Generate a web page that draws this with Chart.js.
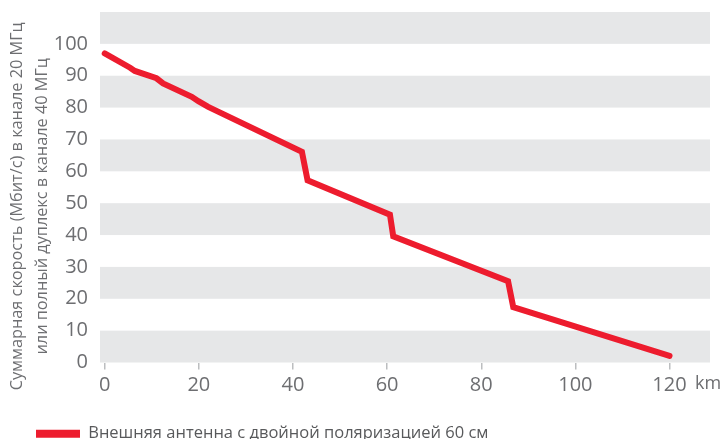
<!DOCTYPE html>
<html lang="ru">
<head>
<meta charset="UTF-8">
<title>Скорость и расстояние</title>
<script src="https://cdn.jsdelivr.net/npm/chart.js"></script>
<style>
  html, body { margin: 0; padding: 0; background: #fff; }
</style>
</head>
<body>
<canvas id="chart" width="720" height="439"></canvas>
<script>
// distance, km
const distanceKm = [0, 5.4, 6.4, 11.0, 12.4, 18.5, 19.9, 22.0, 41.9, 43.1, 60.6, 61.3, 85.7, 86.8, 120];
// throughput, Mbit/s
const speedMbps = [97, 92.5, 91.5, 89.2, 87.6, 83.4, 82.0, 80.2, 66.1, 57.2, 46.4, 39.6, 25.5, 17.4, 2.1];

const seriesLabel = 'Внешняя антенна с двойной поляризацией 60 см';
const yTitle = ['Суммарная скорость (Мбит/с) в канале 20 МГц', 'или полный дуплекс в канале 40 МГц'];
const xTicks = [0, 20, 40, 60, 80, 100, 120, 128.2];
const xTickLabels = ['0', '20', '40', '60', '80', '100', '120', 'km'];
const yTicks = [0, 10, 20, 30, 40, 50, 60, 70, 80, 90, 100];
const bands = [[0, 10], [20, 30], [40, 50], [60, 70], [80, 90], [100, 110]];

const RED = '#ed1c2e';
const GREY_TXT = '#6d6e71';
const FONT = '"Open Sans", "Noto Sans", sans-serif';
const UNIT_TICK = xTicks.length - 1;

// grey stripes behind the plot
const bandsPlugin = {
    id: 'bands',
    beforeDatasetsDraw(chart) {
        const {ctx, chartArea, scales} = chart;
        ctx.save();
        ctx.fillStyle = '#e6e7e8';
        bands.forEach(([lo, hi]) => {
            const top = scales.y.getPixelForValue(hi);
            const bottom = scales.y.getPixelForValue(lo);
            ctx.fillRect(chartArea.left, top, chartArea.right - chartArea.left, bottom - top);
        });
        ctx.restore();
    }
};

// rotated two-line y title, sits a bit lower than the plot centre like the original
const yTitlePlugin = {
    id: 'yTitle',
    afterDraw(chart) {
        const {ctx, chartArea} = chart;
        const cy = (chartArea.top + chartArea.bottom) / 2 + 19;
        ctx.save();
        ctx.fillStyle = GREY_TXT;
        ctx.font = '16.3px ' + FONT;
        ctx.textAlign = 'center';
        ctx.textBaseline = 'middle';
        ctx.translate(17, cy);
        ctx.rotate(-Math.PI / 2);
        yTitle.forEach((line, i) => ctx.fillText(line, 0, i * 25));
        ctx.restore();
    }
};

new Chart(document.getElementById('chart'), {
    type: 'line',
    data: {
        datasets: [{
            label: seriesLabel,
            data: distanceKm.map((x, i) => ({x: x, y: speedMbps[i]})),
            borderColor: RED,
            backgroundColor: RED,
            borderWidth: 6,
            borderCapStyle: 'round',
            borderJoinStyle: 'miter',
            pointRadius: 0,
            tension: 0,
            fill: false
        }]
    },
    options: {
        responsive: false,
        animation: false,
        devicePixelRatio: 1,
        layout: {
            padding: {top: 12, right: 10, left: 32, bottom: -13}
        },
        plugins: {
            tooltip: {enabled: false},
            legend: {
                position: 'bottom',
                align: 'start',
                labels: {
                    boxWidth: 44,
                    boxHeight: 8,
                    padding: 4,
                    color: '#58595b',
                    font: {family: FONT, size: 16.5},
                    generateLabels: chart => Chart.defaults.plugins.legend.labels.generateLabels(chart)
                        .map(l => ({...l, lineWidth: 0, fillStyle: RED}))
                }
            }
        },
        scales: {
            x: {
                type: 'linear',
                min: -1,
                max: 128.6,
                afterBuildTicks: s => { s.ticks = xTicks.map(v => ({value: v})); },
                afterFit: s => { s.height = 59; s.paddingRight = 0; },
                border: {display: false},
                grid: {
                    drawOnChartArea: false,
                    drawTicks: true,
                    tickLength: 7,
                    tickColor: c => c.index === UNIT_TICK ? 'rgba(0,0,0,0)' : '#bcbec0',
                    lineWidth: 1.5
                },
                ticks: {
                    padding: 4,
                    color: GREY_TXT,
                    maxRotation: 0,
                    autoSkip: false,
                    font: c => ({family: FONT, size: c.index === UNIT_TICK ? 18 : 20}),
                    callback: (v, i) => xTickLabels[i]
                }
            },
            y: {
                min: 0,
                max: 110,
                afterBuildTicks: s => { s.ticks = yTicks.map(v => ({value: v})); },
                afterFit: s => { s.width = 68; s.paddingTop = 0; s.paddingBottom = 0; },
                border: {display: false},
                grid: {display: false, drawTicks: false},
                ticks: {
                    padding: 12,
                    color: GREY_TXT,
                    font: {family: FONT, size: 20}
                },
                title: {display: false}
            }
        }
    },
    plugins: [bandsPlugin, yTitlePlugin]
});
</script>
</body>
</html>
